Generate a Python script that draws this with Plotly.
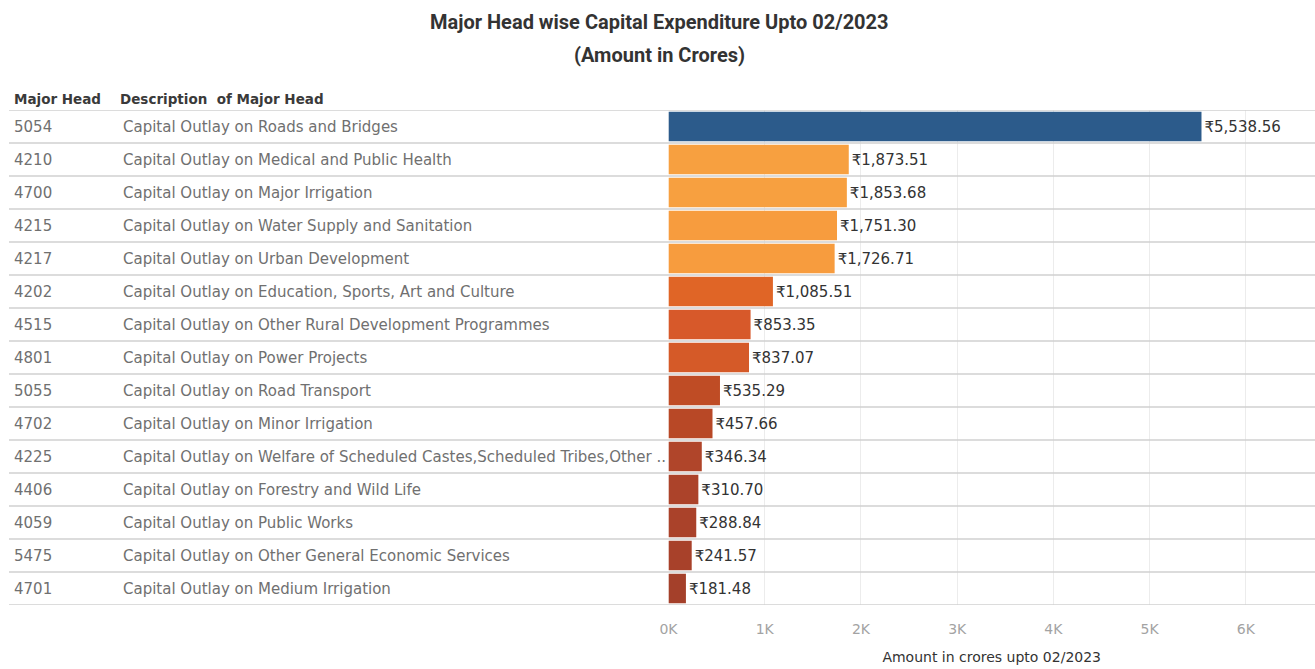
import plotly.graph_objects as go

codes = ["5054", "4210", "4700", "4215", "4217", "4202", "4515", "4801",
         "5055", "4702", "4225", "4406", "4059", "5475", "4701"]
descriptions = [
    "Capital Outlay on Roads and Bridges",
    "Capital Outlay on Medical and Public Health",
    "Capital Outlay on Major Irrigation",
    "Capital Outlay on Water Supply and Sanitation",
    "Capital Outlay on Urban Development",
    "Capital Outlay on Education, Sports, Art and Culture",
    "Capital Outlay on Other Rural Development Programmes",
    "Capital Outlay on Power Projects",
    "Capital Outlay on Road Transport",
    "Capital Outlay on Minor Irrigation",
    "Capital Outlay on Welfare of Scheduled Castes,Scheduled Tribes,Other ..",
    "Capital Outlay on Forestry and Wild Life",
    "Capital Outlay on Public Works",
    "Capital Outlay on Other General Economic Services",
    "Capital Outlay on Medium Irrigation",
]
amounts = [5538.56, 1873.51, 1853.68, 1751.30, 1726.71, 1085.51, 853.35, 837.07,
           535.29, 457.66, 346.34, 310.70, 288.84, 241.57, 181.48]
bar_colors = ["#2C5B8B", "#F7A040", "#F7A040", "#F79C3E", "#F79C3E", "#E06526",
              "#D7592A", "#D55A28", "#BF4C25", "#B84826", "#B0452A", "#AC432A",
              "#AA422A", "#A8412A", "#A4402A"]
tick_vals = [0, 1000, 2000, 3000, 4000, 5000, 6000]
tick_text = ["0K", "1K", "2K", "3K", "4K", "5K", "6K"]
title_lines = ["Major Head wise Capital Expenditure Upto 02/2023", "(Amount in Crores)"]
header_labels = ["Major Head", "Description  of Major Head"]
x_title = "Amount in crores upto 02/2023"

W, H = 1315, 669
plot_left = 664
plot_top = 110
plot_bottom = 605
n = len(codes)
rows = list(range(n))

FONT = "DejaVu Sans, Verdana, sans-serif"
TFONT = "Roboto, Liberation Sans, sans-serif"


def paper_y(ypx):
    return (plot_bottom - ypx) / (plot_bottom - plot_top)


fig = go.Figure()
fig.add_trace(go.Bar(
    x=amounts, y=rows, orientation="h",
    marker=dict(color=bar_colors, line=dict(width=0)),
    width=0.9,
    text=amounts, texttemplate="₹%{x:,.2f}", textposition="outside",
    textfont=dict(family=FONT, size=15, color="#333333"),
    cliponaxis=False, hoverinfo="skip",
))

shapes = []
for k in range(n + 1):
    shapes.append(dict(type="line", xref="paper", yref="y",
                       x0=0, x1=1, y0=k - 0.5, y1=k - 0.5,
                       line=dict(color="#d0d0d0", width=1.5), layer="above"))

annotations = []
for i in rows:
    annotations.append(dict(xref="paper", yref="y", x=3 / W, y=i, text=codes[i],
                            xanchor="left", yanchor="middle", showarrow=False,
                            font=dict(family=FONT, size=15, color="#707070")))
    annotations.append(dict(xref="paper", yref="y", x=113 / W, y=i, text=descriptions[i],
                            xanchor="left", yanchor="middle", showarrow=False,
                            font=dict(family=FONT, size=15, color="#707070")))
annotations.append(dict(xref="paper", yref="paper", x=3 / W, y=paper_y(99),
                        text=header_labels[0], xanchor="left", yanchor="middle", showarrow=False,
                        font=dict(family=FONT, size=13.5, color="#3a3a3a", weight="bold")))
annotations.append(dict(xref="paper", yref="paper", x=110 / W, y=paper_y(99),
                        text=header_labels[1], xanchor="left", yanchor="middle", showarrow=False,
                        font=dict(family=FONT, size=13.5, color="#3a3a3a", weight="bold")))
for line, ypx in zip(title_lines, [22, 55]):
    annotations.append(dict(xref="paper", yref="paper", x=655 / W,
                            y=paper_y(ypx), text=line,
                            xanchor="center", yanchor="middle", showarrow=False,
                            font=dict(family=TFONT, size=20, color="#333333", weight="bold")))

fig.update_layout(
    width=W, height=H,
    margin=dict(l=0, r=0, t=plot_top, b=H - plot_bottom),
    paper_bgcolor="white", plot_bgcolor="white",
    showlegend=False,
    xaxis=dict(domain=[plot_left / W, 1], range=[0, 6718],
               tickvals=tick_vals, ticktext=tick_text,
               tickfont=dict(family=FONT, size=14, color="#a3a3a3"),
               ticks="outside", ticklen=11, tickcolor="rgba(0,0,0,0)",
               showgrid=True, gridcolor="#ececec", gridwidth=1,
               zeroline=False, showline=False,
               title=dict(text=x_title, standoff=16,
                          font=dict(family=FONT, size=14, color="#333333"))),
    yaxis=dict(range=[n - 0.5, -0.5], showticklabels=False, showgrid=False,
               zeroline=False, showline=False, ticks=""),
    shapes=shapes, annotations=annotations,
    bargap=0.1,
)

fig.write_html(
    "out.html",
    config={"displayModeBar": False},
    post_script="document.body.style.margin='0px';document.body.style.overflow='hidden';",
)
